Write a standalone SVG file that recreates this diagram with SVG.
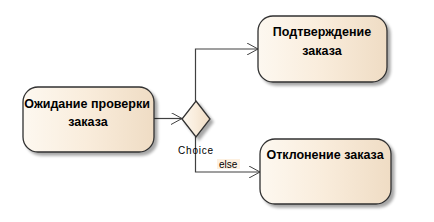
<svg xmlns="http://www.w3.org/2000/svg" width="434" height="222" viewBox="0 0 434 222">
<defs>
<linearGradient id="g" x1="0" y1="0" x2="1" y2="0">
<stop offset="0" stop-color="#fdf8f0"/>
<stop offset="0.5" stop-color="#f9ecdb"/>
<stop offset="1" stop-color="#efdcc4"/>
</linearGradient>
<filter id="sh" x="-10%" y="-10%" width="130%" height="130%">
<feGaussianBlur in="SourceAlpha" stdDeviation="1.5"/>
<feOffset dx="3" dy="3" result="b"/>
<feComponentTransfer><feFuncA type="linear" slope="0.35"/></feComponentTransfer>
<feMerge><feMergeNode/><feMergeNode in="SourceGraphic"/></feMerge>
</filter>
<marker id="arr" viewBox="0 0 12 12" refX="11" refY="6" markerWidth="12" markerHeight="12" markerUnits="userSpaceOnUse" orient="auto">
<path d="M0,0 L11,6 L0,12" fill="none" stroke="#404040" stroke-width="1"/>
</marker>
</defs>
<style>
.node{fill:url(#g);stroke:#303030;stroke-width:1.3;filter:url(#sh)}
.lbl{font-family:"Liberation Sans",Arial,sans-serif;font-size:12.5px;font-weight:bold;fill:#000;text-anchor:middle}
.small{font-family:"Liberation Sans",Arial,sans-serif;font-size:10px;fill:#000}
.conn{fill:none;stroke:#404040;stroke-width:1.2;marker-end:url(#arr)}
</style>
<rect width="434" height="222" fill="#fff"/>
<g id="connectors">
<path class="conn" d="M154,118.5 H182"/>
<path class="conn" d="M195.5,101 V49 H258"/>
<path class="conn" d="M195.5,137 V172 H260"/>
</g>
<g id="wait">
<rect class="node" x="23" y="87" width="131" height="65" rx="15" ry="15"/>
<text class="lbl" x="87" y="108">Ожидание проверки</text>
<text class="lbl" x="88" y="126">заказа</text>
</g>
<g id="choice">
<path class="node" d="M196,101 L210,119 L196,137 L182,119 Z"/>
<text class="small" x="178" y="154" letter-spacing="0.8">Choice</text>
</g>
<g id="confirm">
<rect class="node" x="258" y="16" width="129" height="66" rx="15" ry="15"/>
<text class="lbl" x="322" y="36">Подтверждение</text>
<text class="lbl" x="322" y="55">заказа</text>
</g>
<g id="reject">
<rect class="node" x="260" y="139" width="131" height="65" rx="15" ry="15"/>
<text class="lbl" x="325" y="159">Отклонение заказа</text>
</g>
<g id="else-label">
<rect x="217" y="159" width="23" height="10" fill="#fdf0e0"/>
<text class="small" x="219" y="167.5">else</text>
</g>
</svg>
